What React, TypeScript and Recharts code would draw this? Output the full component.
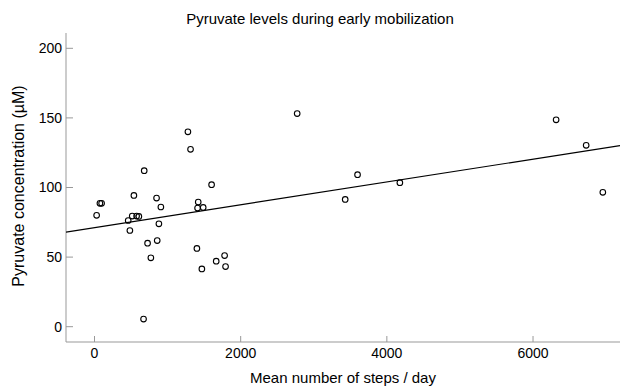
import { ComposedChart, Scatter, XAxis, YAxis, Label } from "recharts";

// mean steps per day for each patient, and the matching pyruvate value (µM)
const steps = [
  29, 74, 97, 461, 484, 516, 539, 576, 607, 680, 671, 726, 771, 849, 858, 881,
  908, 1278, 1314, 1401, 1419, 1410, 1469, 1487, 1602, 1665, 1780, 1793, 2773,
  3599, 3430, 4178, 6316, 6727, 6955,
];
const pyruvate = [
  80, 88.6, 88.6, 76.3, 69.1, 79.5, 94.3, 79.5, 79.2, 112.1, 5.5, 60, 49.5,
  92.4, 61.9, 73.9, 86, 140, 127.4, 56.2, 89.6, 85.2, 41.5, 85.7, 102, 47.1,
  51.1, 43.2, 153.1, 109.2, 91.4, 103.5, 148.6, 130.3, 96.5,
];

// fitted regression line, read at both ends of the x axis
const fitSteps = [-390, 7190];
const fitPyruvate = [68.0, 130.1];

const xTicks = [0, 2000, 4000, 6000];
const yTicks = [0, 50, 100, 150, 200];

const points = steps.map((s, i) => ({ x: s, y: pyruvate[i] }));
const fit = fitSteps.map((s, i) => ({ x: s, y: fitPyruvate[i] }));

const font = "'Liberation Sans', Arial, sans-serif";
const axisGrey = "#999";

const HollowDot = (props: any) => (
  <circle
    cx={props.cx}
    cy={props.cy}
    r={2.8}
    fill="none"
    stroke="#000"
    strokeWidth={1.1}
  />
);

export default function App() {
  return (
    <div
      style={{
        position: "absolute",
        left: 0,
        top: 0,
        width: 620,
        height: 387,
        background: "#fff",
        fontFamily: font,
      }}
    >
      <div
        style={{
          position: "absolute",
          left: 10,
          top: 10,
          width: 620,
          textAlign: "center",
          fontSize: 15,
          color: "#000",
          lineHeight: "17px",
        }}
      >
        Pyruvate levels during early mobilization
      </div>
      <ComposedChart
        width={620}
        height={387}
        margin={{ top: 33, right: 0, bottom: 0, left: 0 }}
      >
        <XAxis
          type="number"
          dataKey="x"
          domain={[-390, 7190]}
          ticks={xTicks}
          allowDataOverflow
          height={45}
          tickSize={-6}
          tickMargin={12}
          tick={{ fill: "#000", fontSize: 14, fontFamily: font }}
          tickLine={{ stroke: axisGrey }}
          axisLine={{ stroke: axisGrey }}
        >
          <Label
            value="Mean number of steps / day"
            position="insideBottom"
            offset={4}
            style={{ fill: "#000", fontSize: 15, fontFamily: font }}
          />
        </XAxis>
        <YAxis
          type="number"
          dataKey="y"
          domain={[-11, 211]}
          ticks={yTicks}
          allowDataOverflow
          width={66}
          tickSize={-7}
          tickMargin={11}
          tick={{ fill: "#000", fontSize: 14, fontFamily: font }}
          tickLine={{ stroke: axisGrey }}
          axisLine={{ stroke: axisGrey }}
        >
          <Label
            content={() => (
              <text
                x={0}
                y={0}
                transform="translate(24,186) rotate(-90)"
                textAnchor="middle"
                fontSize={16}
                fontFamily={font}
                fill="#000"
              >
                Pyruvate concentration (µM)
              </text>
            )}
          />
        </YAxis>
        <Scatter
          data={fit}
          line={{ stroke: "#000", strokeWidth: 1.2 }}
          shape={() => <g />}
          isAnimationActive={false}
        />
        <Scatter data={points} shape={HollowDot} isAnimationActive={false} />
      </ComposedChart>
    </div>
  );
}
